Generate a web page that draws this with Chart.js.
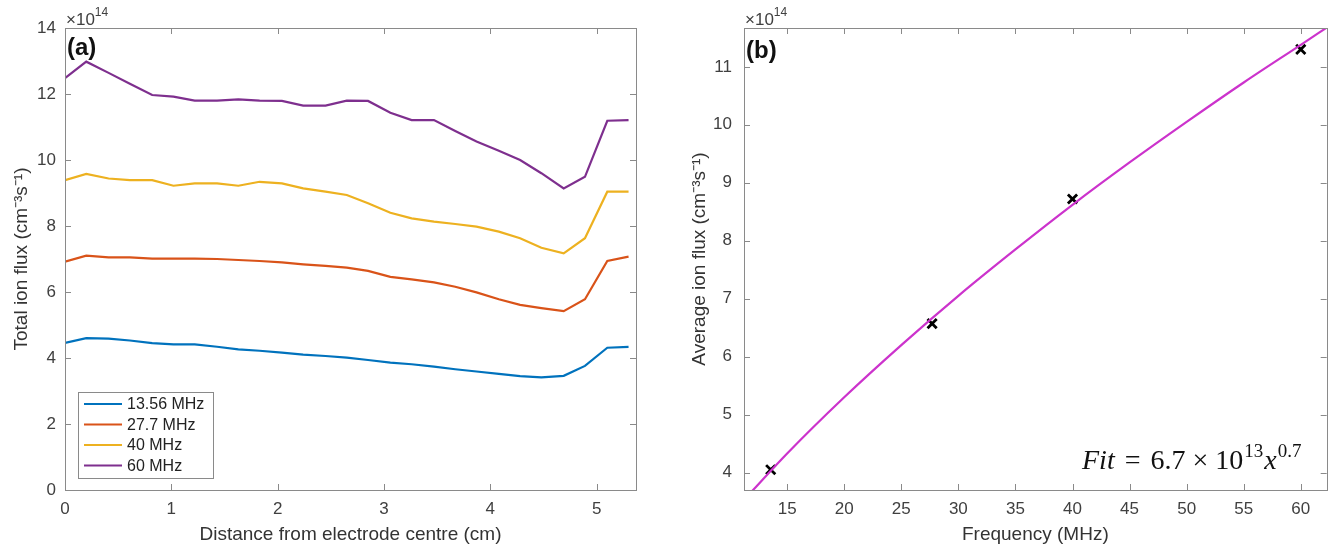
<!DOCTYPE html>
<html>
<head>
<meta charset="utf-8">
<script src="https://cdn.jsdelivr.net/npm/chart.js@4.4.0/dist/chart.umd.min.js"></script>
<style>
html, body { margin: 0; padding: 0; background: #fff; }
#wrap { position: relative; width: 1336px; height: 546px; }
.pane { position: absolute; top: 0; width: 668px; height: 546px; }
</style>
</head>
<body>
<div id="wrap">
  <div class="pane" style="left:0"><canvas id="chartA" width="668" height="546"></canvas></div>
  <div class="pane" style="left:668px"><canvas id="chartB" width="668" height="546"></canvas></div>
</div>
<script>
// ── (a) ion flux vs distance, units of 1e14 cm^-3 s^-1 ─────────
const distance = [0, 0.2, 0.41, 0.61, 0.82, 1.02, 1.22, 1.43, 1.63, 1.83, 2.04, 2.24, 2.45, 2.65,
                  2.85, 3.06, 3.26, 3.47, 3.67, 3.87, 4.08, 4.28, 4.48, 4.69, 4.89, 5.1, 5.3];
const flux13 = [4.46, 4.60, 4.59, 4.53, 4.45, 4.41, 4.41, 4.34, 4.26, 4.22, 4.16, 4.10, 4.06, 4.01,
                3.94, 3.86, 3.81, 3.74, 3.66, 3.59, 3.52, 3.45, 3.41, 3.46, 3.76, 4.31, 4.34];
const flux27 = [6.92, 7.10, 7.05, 7.05, 7.01, 7.01, 7.01, 7.00, 6.97, 6.94, 6.90, 6.84, 6.79, 6.74,
                6.64, 6.46, 6.38, 6.29, 6.16, 5.99, 5.78, 5.61, 5.51, 5.42, 5.78, 6.94, 7.07];
const flux40 = [9.39, 9.58, 9.44, 9.39, 9.39, 9.22, 9.29, 9.29, 9.22, 9.34, 9.29, 9.14, 9.04, 8.94,
                8.69, 8.40, 8.23, 8.13, 8.06, 7.98, 7.83, 7.63, 7.34, 7.17, 7.63, 9.04, 9.04];
const flux60 = [12.48, 12.98, 12.64, 12.31, 11.97, 11.92, 11.80, 11.80, 11.84, 11.80, 11.79, 11.65, 11.65, 11.80,
                11.79, 11.43, 11.21, 11.21, 10.88, 10.56, 10.28, 10.00, 9.60, 9.14, 9.49, 11.19, 11.21];
const seriesNames  = ['13.56 MHz', '27.7 MHz', '40 MHz', '60 MHz'];
const seriesColors = ['#0072BD', '#D95319', '#EDB120', '#7E2F8E'];
const aXTicks = [0, 1, 2, 3, 4, 5];
const aYTicks = [0, 2, 4, 6, 8, 10, 12, 14];

// ── (b) average flux vs frequency ─────────────────────────────
const freq    = [13.56, 27.7, 40, 60];
const avgFlux = [4.05, 6.57, 8.72, 11.30];
const fitFreq = [11.5, 15, 20, 25, 30, 35, 40, 45, 50, 55, 60, 62.3];
const fitFlux = [3.59, 4.33, 5.30, 6.20, 7.05, 7.85, 8.62, 9.35, 10.05, 10.73, 11.38, 11.68];
const bXTicks = [15, 20, 25, 30, 35, 40, 45, 50, 55, 60];
const bYTicks = [4, 5, 6, 7, 8, 9, 10, 11];

const AXIS_GREY = '#8a8a8a';
const TEXT_COL  = '#404040';
const SANS = '"Liberation Sans", Arial, Helvetica, sans-serif';

// box round the plot with inward ticks on all four sides (MATLAB "box on")
const framePlugin = {
    id: 'frame',
    afterDatasetsDraw(chart) {
        const { ctx, chartArea: a, scales } = chart;
        const len = 6;
        ctx.save();
        ctx.strokeStyle = AXIS_GREY;
        ctx.lineWidth = 1;
        ctx.strokeRect(Math.round(a.left) + 0.5, Math.round(a.top) + 0.5,
                       Math.round(a.width), Math.round(a.height));
        ctx.beginPath();
        scales.x.ticks.forEach(t => {
            const px = Math.round(scales.x.getPixelForValue(t.value)) + 0.5;
            ctx.moveTo(px, a.bottom); ctx.lineTo(px, a.bottom - len);
            ctx.moveTo(px, a.top);    ctx.lineTo(px, a.top + len);
        });
        scales.y.ticks.forEach(t => {
            const py = Math.round(scales.y.getPixelForValue(t.value)) + 0.5;
            ctx.moveTo(a.left, py);  ctx.lineTo(a.left + len, py);
            ctx.moveTo(a.right, py); ctx.lineTo(a.right - len, py);
        });
        ctx.stroke();

        // exponent label and panel tag
        const o = chart.options.plugins.frame;
        ctx.fillStyle = TEXT_COL;
        ctx.textBaseline = 'alphabetic';
        ctx.font = `17px ${SANS}`;
        ctx.fillText('\u00d710', a.left + 1, a.top - 3);
        const w = ctx.measureText('\u00d710').width;
        ctx.font = `12px ${SANS}`;
        ctx.fillText(o.exponent, a.left + 1 + w, a.top - 12);
        ctx.fillStyle = '#111';
        ctx.font = `bold 24px ${SANS}`;
        ctx.fillText(o.tag, a.left + 2, a.top + o.tagDy);
        ctx.restore();
    }
};

// boxed legend in the lower-left corner of (a)
const boxLegendPlugin = {
    id: 'boxLegend',
    afterDraw(chart) {
        const o = chart.options.plugins.boxLegend;
        if (!o || !o.show) return;
        const { ctx } = chart;
        ctx.save();
        ctx.fillStyle = '#fff';
        ctx.strokeStyle = '#8a8a8a';
        ctx.lineWidth = 1;
        ctx.fillRect(o.x, o.y, o.w, o.h);
        ctx.strokeRect(o.x + 0.5, o.y + 0.5, o.w, o.h);
        ctx.font = `16px ${SANS}`;
        ctx.textBaseline = 'middle';
        chart.data.datasets.forEach((ds, i) => {
            const cy = o.y + 12 + i * 20.5;
            ctx.strokeStyle = ds.borderColor;
            ctx.lineWidth = 2;
            ctx.beginPath();
            ctx.moveTo(o.x + 6, cy); ctx.lineTo(o.x + 44, cy);
            ctx.stroke();
            ctx.fillStyle = '#222';
            ctx.fillText(ds.label, o.x + 49, cy + 1);
        });
        ctx.restore();
    }
};

// LaTeX-like fit annotation for (b)
const fitTextPlugin = {
    id: 'fitText',
    afterDraw(chart) {
        const o = chart.options.plugins.fitText;
        if (!o || !o.show) return;
        const { ctx } = chart;
        const serif = '"Liberation Serif", "DejaVu Serif", serif';
        const parts = [
            { t: 'Fit',  f: `italic 28px ${serif}`, dy: 0,   gap: 0 },
            { t: '=',    f: `28px ${serif}`,        dy: 0,   gap: 10 },
            { t: '6.7',  f: `28px ${serif}`,        dy: 0,   gap: 10 },
            { t: '\u00d7', f: `28px ${serif}`,      dy: 0,   gap: 7 },
            { t: '10',   f: `28px ${serif}`,        dy: 0,   gap: 7 },
            { t: '13',   f: `19px ${serif}`,        dy: -12, gap: 1 },
            { t: 'x',    f: `italic 28px ${serif}`, dy: 0,   gap: 1 },
            { t: '0.7',  f: `19px ${serif}`,        dy: -12, gap: 1 },
        ];
        ctx.save();
        ctx.fillStyle = '#111';
        ctx.textBaseline = 'alphabetic';
        let x = o.x;
        parts.forEach(p => {
            x += p.gap;
            ctx.font = p.f;
            ctx.fillText(p.t, x, o.y + p.dy);
            x += ctx.measureText(p.t).width;
        });
        ctx.restore();
    }
};

function fixedTicks(list) {
    return scale => { scale.ticks = list.map(v => ({ value: v })); };
}

function axisOpts(min, max, tickList, title, size, isY, pad, titlePad) {
    return {
        type: 'linear',
        min, max,
        afterBuildTicks: fixedTicks(tickList),
        afterFit: s => { if (isY) s.width = size; else s.height = size; },
        grid: { display: false, drawTicks: false },
        border: { display: false },
        ticks: { color: TEXT_COL, font: { family: SANS, size: 17 }, padding: pad,
                 maxRotation: 0, autoSkip: false, callback: v => String(v) },
        title: { display: true, text: title, color: '#333',
                 font: { family: SANS, size: 19 }, padding: { top: titlePad, bottom: 0 } },
    };
}

const fluxSeries = [flux13, flux27, flux40, flux60];

new Chart(document.getElementById('chartA'), {
    type: 'line',
    data: {
        datasets: fluxSeries.map((vals, i) => ({
            label: seriesNames[i],
            data: distance.map((d, j) => ({ x: d, y: vals[j] })),
            borderColor: seriesColors[i],
            backgroundColor: seriesColors[i],
            borderWidth: 2.2,
            pointRadius: 0,
            tension: 0,
        })),
    },
    options: {
        responsive: false, animation: false,
        layout: { padding: { top: 28, right: 32, left: 0, bottom: 0 } },
        plugins: {
            legend: { display: false }, tooltip: { enabled: false },
            frame: { tag: '(a)', exponent: '14', tagDy: 27 },
            boxLegend: { show: true, x: 78, y: 392, w: 135, h: 86 },
        },
        scales: {
            x: axisOpts(0, 5.37, aXTicks, 'Distance from electrode centre (cm)', 56, false, 9, 1),
            y: axisOpts(0, 14, aYTicks, 'Total ion flux (cm\u207b\u00b3s\u207b\u00b9)', 65, true, 9, 10),
        },
    },
    plugins: [framePlugin, boxLegendPlugin],
});

new Chart(document.getElementById('chartB'), {
    type: 'scatter',
    data: {
        datasets: [
            {
                label: 'Fit',
                data: fitFreq.map((f, j) => ({ x: f, y: fitFlux[j] })),
                showLine: true,
                borderColor: '#CC33CC',
                borderWidth: 2.2,
                pointRadius: 0,
                cubicInterpolationMode: 'monotone',
            },
            {
                label: 'Data',
                data: freq.map((f, j) => ({ x: f, y: avgFlux[j] })),
                pointStyle: 'crossRot',
                pointRadius: 6.5,
                borderColor: '#000',
                pointBorderWidth: 2.8,
                showLine: false,
            },
        ],
    },
    options: {
        responsive: false, animation: false,
        layout: { padding: { top: 28, right: 7, left: 0, bottom: 0 } },
        plugins: {
            legend: { display: false }, tooltip: { enabled: false },
            frame: { tag: '(b)', exponent: '14', tagDy: 30 },
            fitText: { show: true, x: 414, y: 469 },
        },
        scales: {
            x: axisOpts(11.22, 62.27, bXTicks, 'Frequency (MHz)', 56, false, 9, 1),
            y: axisOpts(3.7, 11.67, bYTicks, 'Average ion flux (cm\u207b\u00b3s\u207b\u00b9)', 76, true, 12, 20),
        },
    },
    plugins: [framePlugin, fitTextPlugin],
});
</script>
</body>
</html>
